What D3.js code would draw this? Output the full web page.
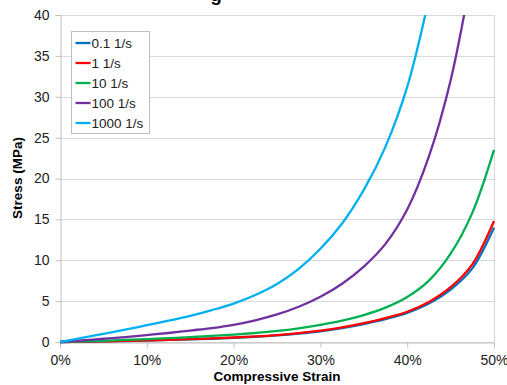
<!DOCTYPE html>
<html>
<head>
<meta charset="utf-8">
<script src="https://cdn.jsdelivr.net/npm/d3@7"></script>
<style>
body { margin: 0; background: #fff; }
svg { display: block; font-family: "Liberation Sans", Arial, sans-serif; }
</style>
</head>
<body>
<svg id="svg" width="507" height="385"></svg>
<script>
// strain (fraction) and stress (MPa)
var strain = [0, 0.025, 0.05, 0.075, 0.10, 0.125, 0.15, 0.175, 0.20, 0.225, 0.25,
              0.275, 0.30, 0.325, 0.35, 0.375, 0.40, 0.425, 0.45, 0.475, 0.50];
var rate01 = [0, 0.03, 0.07, 0.12, 0.18, 0.25, 0.32, 0.4, 0.5, 0.63, 0.8,
              1.02, 1.3, 1.7, 2.2, 2.8, 3.55, 4.7, 6.4, 9.0, 14.0];
var rate1 = [0, 0.04, 0.08, 0.14, 0.2, 0.27, 0.35, 0.44, 0.55, 0.68, 0.85,
             1.08, 1.38, 1.78, 2.3, 2.93, 3.7, 4.9, 6.7, 9.5, 14.8];
var rate10 = [0, 0.07, 0.15, 0.25, 0.35, 0.47, 0.6, 0.74, 0.9, 1.1, 1.35,
              1.68, 2.1, 2.62, 3.3, 4.2, 5.5, 7.5, 10.8, 15.8, 23.5];
var rate100 = [0, 0.2, 0.4, 0.6, 0.85, 1.1, 1.4, 1.7, 2.1, 2.65, 3.37,
               4.31, 5.53, 7.13, 9.23, 12.0, 16.2, 22.7, 32.0, 45.5, null];
var rate1000 = [0, 0.5, 1.0, 1.5, 2.05, 2.6, 3.2, 3.9, 4.7, 5.75, 7.1,
                8.95, 11.4, 14.5, 18.6, 23.9, 31.2, 42, null, null, null];
var seriesNames = ["0.1 1/s", "1 1/s", "10 1/s", "100 1/s", "1000 1/s"];
var seriesColors = ["#0070c0", "#ff0000", "#00b050", "#7030a0", "#00b0f0"];
var xTicks = [0, 0.1, 0.2, 0.3, 0.4, 0.5];
var yTicks = [0, 5, 10, 15, 20, 25, 30, 35, 40];

var series = [rate01, rate1, rate10, rate100, rate1000];

var svg = d3.select('#svg');
var plot = {left: 60, right: 494, top: 15, bottom: 342};

var x = d3.scaleLinear().domain([0, 0.5]).range([plot.left, plot.right]);
var y = d3.scaleLinear().domain([0, 40]).range([plot.bottom, plot.top]);

// title, cut off at the top edge
svg.append('text').attr('x', 216).attr('y', 0.5).attr('text-anchor', 'middle')
    .attr('font-size', 19).attr('font-weight', 'bold').attr('fill', '#000').text('g');

// gridlines
svg.append('g').selectAll('line').data(yTicks).enter().append('line')
    .attr('x1', plot.left).attr('x2', plot.right)
    .attr('y1', function (d) { return Math.round(y(d)) + 0.5; })
    .attr('y2', function (d) { return Math.round(y(d)) + 0.5; })
    .attr('stroke', '#d9d9d9').attr('stroke-width', 1.2);
svg.append('line').attr('x1', plot.right + 0.5).attr('x2', plot.right + 0.5)
    .attr('y1', plot.top).attr('y2', plot.bottom)
    .attr('stroke', '#d9d9d9').attr('stroke-width', 1.2);

// axes
var xAxis = d3.axisBottom(x).tickValues(xTicks).tickFormat(d3.format('.0%')).tickSize(5).tickPadding(4);
var yAxis = d3.axisLeft(y).tickValues(yTicks).tickSize(5).tickPadding(6);

var gx = svg.append('g').attr('transform', 'translate(0,' + (plot.bottom + 0.5) + ')').call(xAxis);
var gy = svg.append('g').attr('transform', 'translate(' + (plot.left + 0.5) + ',0)').call(yAxis);
[gx, gy].forEach(function (g) {
    g.select('.domain').attr('stroke', '#bfbfbf');
    g.selectAll('.tick line').attr('stroke', '#bfbfbf');
    g.selectAll('text').attr('font-size', 14).attr('fill', '#222')
        .attr('font-family', '"Liberation Sans", Arial, sans-serif');
});
gx.selectAll('text').attr('dy', '0.95em');

// axis titles
svg.append('text').attr('x', 277).attr('y', 381).attr('text-anchor', 'middle')
    .attr('font-size', 13.5).attr('font-weight', 'bold').text('Compressive Strain');
svg.append('text').attr('transform', 'translate(22,178) rotate(-90)').attr('text-anchor', 'middle')
    .attr('font-size', 13.5).attr('font-weight', 'bold').text('Stress (MPa)');

// curves
svg.append('clipPath').attr('id', 'plotclip').append('rect')
    .attr('x', plot.left).attr('y', plot.top)
    .attr('width', plot.right - plot.left + 2).attr('height', plot.bottom - plot.top + 2);

var line = d3.line()
    .defined(function (d) { return d[1] !== null; })
    .x(function (d) { return x(d[0]); })
    .y(function (d) { return y(d[1]); })
    .curve(d3.curveCatmullRom.alpha(0.5));

var lines = svg.append('g').attr('clip-path', 'url(#plotclip)');
series.forEach(function (s, i) {
    var pts = strain.map(function (v, k) { return [v, s[k]]; });
    lines.append('path').attr('d', line(pts))
        .attr('fill', 'none').attr('stroke', seriesColors[i]).attr('stroke-width', 2.3);
});

// legend
var legend = svg.append('g').attr('transform', 'translate(71.5,31.5)');
legend.append('rect').attr('width', 78).attr('height', 102)
    .attr('fill', '#fff').attr('stroke', '#bfbfbf');
seriesNames.forEach(function (name, i) {
    var ly = 11.5 + i * 20;
    legend.append('line').attr('x1', 4).attr('x2', 19).attr('y1', ly).attr('y2', ly)
        .attr('stroke', seriesColors[i]).attr('stroke-width', 2.3);
    legend.append('text').attr('x', 20).attr('y', ly).attr('dy', '0.35em')
        .attr('font-size', 13.5).attr('fill', '#222').text(name);
});
</script>
</body>
</html>
